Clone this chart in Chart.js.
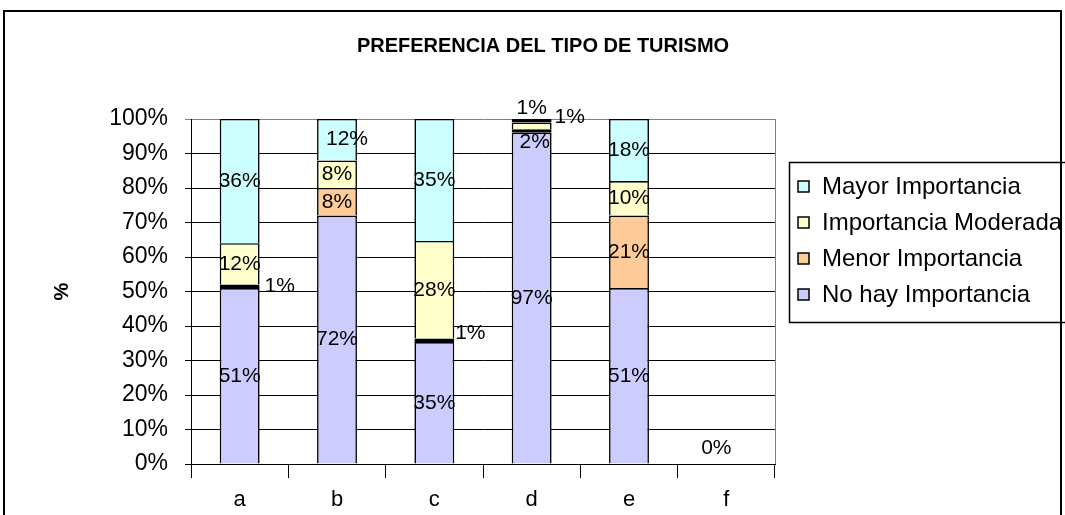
<!DOCTYPE html>
<html>
<head>
<meta charset="utf-8">
<script src="https://cdn.jsdelivr.net/npm/chart.js@4"></script>
<style>
html, body { margin: 0; padding: 0; background: #fff; overflow: hidden; }
#wrap { position: relative; width: 1065px; height: 515px; }
</style>
</head>
<body>
<div id="wrap"><canvas id="chart" width="1065" height="515"></canvas></div>
<script>
// categorías y valores (%)
const categories = ['a', 'b', 'c', 'd', 'e', 'f'];
const noHayImportancia = [51, 72, 35, 97, 51, 0];
const menorImportancia = [1, 8, 1, 1, 21, null];
const importanciaModerada = [12, 8, 28, 2, 10, null];
const mayorImportancia = [36, 12, 35, 1, 18, null];
const yTicks = [0, 10, 20, 30, 40, 50, 60, 70, 80, 90, 100];
const chartTitle = 'PREFERENCIA DEL TIPO DE TURISMO';

const FONT = 'Arial, "Liberation Sans", sans-serif';

// desplazamiento manual de etiquetas pequeñas: "dataset:categoría" -> [dx, dy]
const labelNudge = {
  '1:0': [40, 0],
  '1:2': [36, -7],
  '3:3': [0, -13],
  '1:3': [38, -14],
  '2:3': [3, 16],
  '0:5': [-10, -16],
  '3:1': [10, 0]
};

const series = [noHayImportancia, menorImportancia, importanciaModerada, mayorImportancia];
const totals = categories.map((c, i) => series.reduce((s, arr) => s + (arr[i] || 0), 0));
// 100% apilado, como en Excel
const asPercent = arr => arr.map((v, i) => v === null ? null : (totals[i] ? v / totals[i] * 100 : 0));

const frame = {
  id: 'frame',
  beforeDraw(chart) {
    const ctx = chart.ctx;
    ctx.save();
    ctx.fillStyle = '#fff';
    ctx.fillRect(0, 0, chart.width, chart.height);
    ctx.strokeStyle = '#000';
    ctx.lineWidth = 2;
    ctx.strokeRect(4, 11, 1057, 530);
    // título
    ctx.fillStyle = '#000';
    ctx.font = 'bold 20px ' + FONT;
    ctx.textAlign = 'center';
    ctx.textBaseline = 'middle';
    ctx.fillText(chartTitle, 543, 46);
    ctx.restore();
  },
  afterDatasetsDraw(chart) {
    const a = chart.chartArea;
    const ctx = chart.ctx;
    ctx.save();
    ctx.strokeStyle = '#808080';
    ctx.lineWidth = 1;
    ctx.beginPath();
    ctx.moveTo(Math.round(a.right) + 0.5, a.top);
    ctx.lineTo(Math.round(a.right) + 0.5, a.bottom);
    ctx.stroke();
    ctx.restore();
  }
};

const segLabels = {
  id: 'segLabels',
  afterDatasetsDraw(chart) {
    const ctx = chart.ctx;
    ctx.save();
    ctx.font = '21px ' + FONT;
    ctx.fillStyle = '#000';
    ctx.textAlign = 'center';
    ctx.textBaseline = 'middle';
    chart.data.datasets.forEach((ds, di) => {
      const meta = chart.getDatasetMeta(di);
      meta.data.forEach((bar, i) => {
        const raw = ds.raw[i];
        if (raw === null || raw === undefined) return;
        const n = labelNudge[di + ':' + i] || [0, 0];
        const yMid = (bar.y + bar.base) / 2;
        ctx.fillText(raw + '%', bar.x + n[0], yMid + n[1]);
      });
    });
    ctx.restore();
  }
};

const boxLegend = {
  id: 'boxLegend',
  afterDraw(chart) {
    const ctx = chart.ctx;
    ctx.save();
    ctx.strokeStyle = '#000';
    ctx.lineWidth = 1.5;
    ctx.strokeRect(789.5, 162.5, 320, 160);
    ctx.font = '24px ' + FONT;
    ctx.textAlign = 'left';
    ctx.textBaseline = 'middle';
    chart.data.datasets.slice().reverse().forEach((ds, k) => {
      const y = 186 + k * 36;
      ctx.fillStyle = ds.backgroundColor;
      ctx.fillRect(798, y - 5, 11, 11);
      ctx.lineWidth = 1.5;
      ctx.strokeRect(798, y - 5, 11, 11);
      ctx.fillStyle = '#000';
      ctx.fillText(ds.label, 822, y + 1);
    });
    ctx.restore();
  }
};

const isThin = c => c.raw !== null && c.raw !== undefined && c.raw < 1.5;

const ctx = document.getElementById('chart').getContext('2d');
new Chart(ctx, {
  type: 'bar',
  data: {
    labels: categories,
    datasets: [
      { label: 'No hay Importancia', raw: noHayImportancia, data: asPercent(noHayImportancia), backgroundColor: '#CCCCFF' },
      { label: 'Menor Importancia', raw: menorImportancia, data: asPercent(menorImportancia), backgroundColor: '#FFCC99' },
      { label: 'Importancia Moderada', raw: importanciaModerada, data: asPercent(importanciaModerada), backgroundColor: '#FFFFCC' },
      { label: 'Mayor Importancia', raw: mayorImportancia, data: asPercent(mayorImportancia), backgroundColor: '#CCFFFF' }
    ].map(d => Object.assign(d, {
      borderColor: '#000',
      // segmentos de ~1% se ven como una franja negra, como en Excel
      borderWidth: c => (isThin(c) ? 2 : 1.6),
      borderSkipped: c => (isThin(c) ? false : 'start'),
      barPercentage: 0.41,
      categoryPercentage: 1
    }))
  },
  options: {
    responsive: false,
    animation: false,
    layout: { padding: { left: 0, top: 119, right: 290, bottom: 0 } },
    plugins: {
      legend: { display: false },
      tooltip: { enabled: false },
      title: { display: false }
    },
    scales: {
      x: {
        stacked: true,
        afterFit: s => { s.height = 51; },
        border: { color: '#000', width: 1 },
        grid: { drawOnChartArea: false, color: '#000', tickLength: 14, offset: true },
        ticks: { color: '#000', font: { family: FONT, size: 22 }, padding: 9 }
      },
      y: {
        stacked: true,
        min: 0,
        max: 100,
        afterFit: s => { s.width = 191; },
        afterBuildTicks: s => { s.ticks = yTicks.map(v => ({ value: v })); },
        border: { color: '#000', width: 1 },
        grid: {
          color: c => c.tick && c.tick.value === 100 ? '#808080' : '#000',
          lineWidth: 1,
          tickLength: 6
        },
        ticks: { color: '#000', font: { family: FONT, size: 23 }, padding: 17, callback: v => v + '%' },
        title: {
          display: true,
          text: '%',
          color: '#000',
          font: { family: FONT, size: 20, weight: 'bold' },
          padding: { top: 50, bottom: 0 }
        }
      }
    }
  },
  plugins: [frame, segLabels, boxLegend]
});
</script>
</body>
</html>
